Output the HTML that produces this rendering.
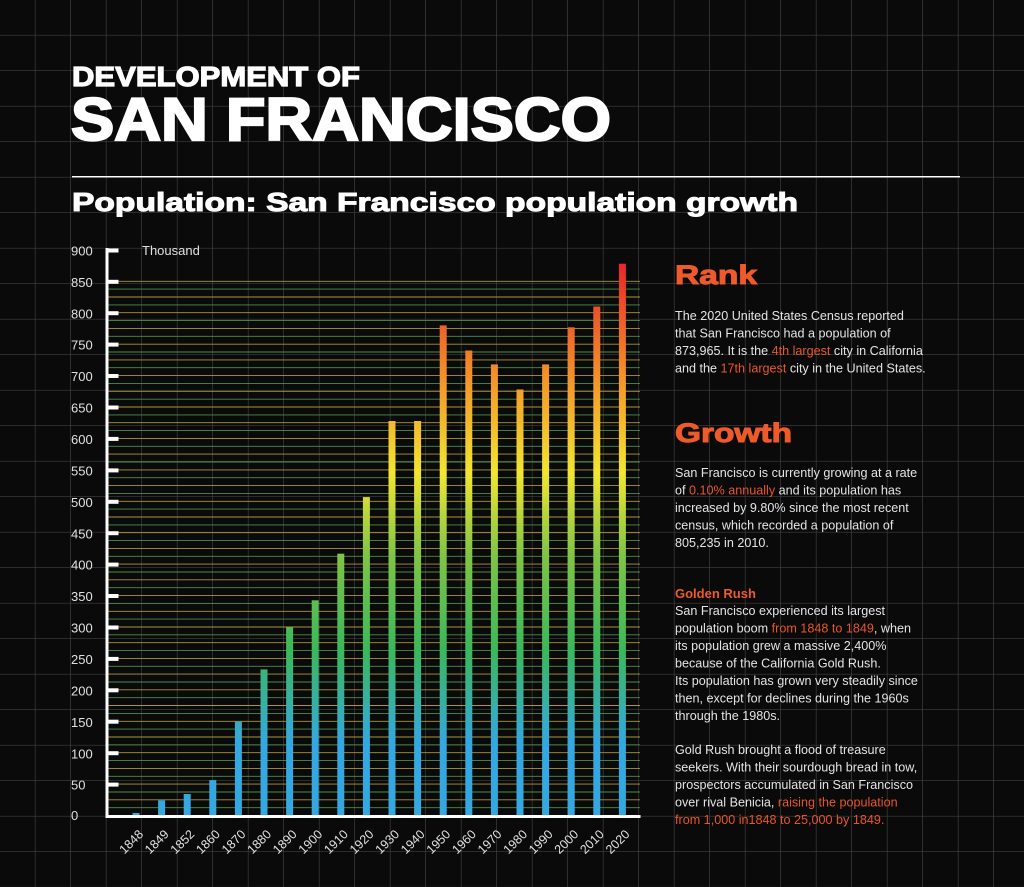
<!DOCTYPE html>
<html><head><meta charset="utf-8"><style>
body{margin:0;background:#0a0a0a;}
svg{display:block;}
text{font-family:"Liberation Sans",Arial,sans-serif;}
.b{fill:#e4e4e4;font-size:12.6px;}
.o{fill:#e8552a;}
</style></head><body>
<svg width="1024" height="887" viewBox="0 0 1024 887" xmlns="http://www.w3.org/2000/svg">
<defs>
<pattern id="g" width="35.5" height="35.5" patternUnits="userSpaceOnUse" x="0" y="0">
<path d="M35.5 0V35.5M0 35.5H35.5" stroke="#404040" stroke-width="1.3" fill="none"/>
</pattern>
<linearGradient id="bar" gradientUnits="userSpaceOnUse" x1="0" y1="816" x2="0" y2="263">
<stop offset="0" stop-color="#35a8e2"/>
<stop offset="0.13" stop-color="#35a8e2"/>
<stop offset="0.3" stop-color="#3bb85a"/>
<stop offset="0.47" stop-color="#7ec447"/>
<stop offset="0.62" stop-color="#f2e631"/>
<stop offset="0.78" stop-color="#f39a2a"/>
<stop offset="1" stop-color="#e8262a"/>
</linearGradient>
</defs>
<rect width="1024" height="887" fill="#0a0a0a"/>
<rect width="1024" height="887" fill="url(#g)"/>

<text x="72" y="86" fill="#fff" stroke="#fff" stroke-width="1.2" font-size="28" font-weight="bold" textLength="288" lengthAdjust="spacingAndGlyphs">DEVELOPMENT OF</text>
<text x="71" y="140" fill="#fff" stroke="#fff" stroke-width="2.2" font-size="60" font-weight="bold" textLength="540" lengthAdjust="spacingAndGlyphs">SAN FRANCISCO</text>
<rect x="72" y="176" width="888" height="1.5" fill="#fff"/>
<text x="72" y="211" fill="#fff" stroke="#fff" stroke-width="1" font-size="26" font-weight="bold" textLength="726" lengthAdjust="spacingAndGlyphs">Population: San Francisco population growth</text>

<g>
<path stroke="#a8983c" stroke-width="0.9" fill="none" d="M107 281.3H640M107 297H640M107 312.7H640M107 328.4H640M107 344.2H640M107 359.9H640M107 375.6H640M107 391.3H640M107 407H640M107 422.7H640M107 438.4H640M107 454.1H640M107 469.9H640M107 485.6H640M107 501.3H640M107 517H640M107 532.7H640M107 548.4H640M107 564.1H640M107 579.8H640M107 595.6H640M107 611.3H640M107 627H640M107 642.7H640M107 658.4H640M107 674.1H640M107 689.8H640M107 705.5H640M107 721.3H640M107 737H640M107 752.7H640M107 768.4H640M107 784.1H640M107 799.8H640"/>
<path stroke="#4a8f4b" stroke-width="0.9" fill="none" d="M107 289.1H640M107 304.9H640M107 320.6H640M107 336.3H640M107 352H640M107 367.7H640M107 383.4H640M107 399.2H640M107 414.9H640M107 430.6H640M107 446.3H640M107 462H640M107 477.7H640M107 493.4H640M107 509.1H640M107 524.9H640M107 540.6H640M107 556.3H640M107 572H640M107 587.7H640M107 603.4H640M107 619.1H640M107 634.8H640M107 650.6H640M107 666.3H640M107 682H640M107 697.7H640M107 713.4H640M107 729.1H640M107 744.8H640M107 760.6H640M107 776.3H640M107 792H640M107 807.7H640"/>
</g>

<g fill="url(#bar)">
<rect x="132.5" y="813" width="7" height="3"/>
<rect x="158.1" y="800.3" width="7" height="15.7"/>
<rect x="183.7" y="794" width="7" height="22"/>
<rect x="209.3" y="780.1" width="7" height="35.9"/>
<rect x="234.9" y="721.7" width="7" height="94.3"/>
<rect x="260.5" y="669.4" width="7" height="146.6"/>
<rect x="286.1" y="627.3" width="7" height="188.7"/>
<rect x="311.7" y="600.3" width="7" height="215.7"/>
<rect x="337.3" y="553.7" width="7" height="262.3"/>
<rect x="362.9" y="497.1" width="7" height="318.9"/>
<rect x="388.5" y="421" width="7" height="395"/>
<rect x="414.1" y="421" width="7" height="395"/>
<rect x="439.7" y="325.4" width="7" height="490.6"/>
<rect x="465.3" y="350.5" width="7" height="465.5"/>
<rect x="490.9" y="364.4" width="7" height="451.6"/>
<rect x="516.5" y="389.5" width="7" height="426.5"/>
<rect x="542.1" y="364.4" width="7" height="451.6"/>
<rect x="567.7" y="327.3" width="7" height="488.7"/>
<rect x="593.3" y="306.5" width="7" height="509.5"/>
<rect x="618.9" y="263.7" width="7" height="552.3"/>
</g>

<rect x="105.5" y="248" width="3" height="570" fill="#fff"/>
<rect x="105.5" y="815" width="535" height="3" fill="#fff"/>
<g fill="#fff">
<rect x="105.5" y="248.5" width="13" height="4"/><rect x="105.5" y="279.8" width="13" height="4"/><rect x="105.5" y="311.2" width="13" height="4"/><rect x="105.5" y="342.6" width="13" height="4"/><rect x="105.5" y="374" width="13" height="4"/><rect x="105.5" y="405.5" width="13" height="4"/><rect x="105.5" y="436.9" width="13" height="4"/><rect x="105.5" y="468.4" width="13" height="4"/><rect x="105.5" y="499.8" width="13" height="4"/><rect x="105.5" y="531.2" width="13" height="4"/><rect x="105.5" y="562.6" width="13" height="4"/><rect x="105.5" y="594" width="13" height="4"/><rect x="105.5" y="625.5" width="13" height="4"/><rect x="105.5" y="656.9" width="13" height="4"/><rect x="105.5" y="688.3" width="13" height="4"/><rect x="105.5" y="719.7" width="13" height="4"/><rect x="105.5" y="751.2" width="13" height="4"/><rect x="105.5" y="782.6" width="13" height="4"/>
</g>
<g fill="#e0e0e0" font-size="13">
<text x="71" y="255.5">900</text><text x="71" y="286.9">850</text><text x="71" y="318.3">800</text><text x="71" y="349.7">750</text><text x="71" y="381.1">700</text><text x="71" y="412.6">650</text><text x="71" y="444">600</text><text x="71" y="475.4">550</text><text x="71" y="506.9">500</text><text x="71" y="538.3">450</text><text x="71" y="569.7">400</text><text x="71" y="601.1">350</text><text x="71" y="632.6">300</text><text x="71" y="664">250</text><text x="71" y="695.4">200</text><text x="71" y="726.8">150</text><text x="71" y="758.3">100</text><text x="71" y="789.7">50</text><text x="71" y="820">0</text>
<text x="142" y="255">Thousand</text>
</g>
<g fill="#e0e0e0" font-size="12.5">
<text transform="translate(144,835) rotate(-45)" text-anchor="end">1848</text>
<text transform="translate(169.6,835) rotate(-45)" text-anchor="end">1849</text>
<text transform="translate(195.2,835) rotate(-45)" text-anchor="end">1852</text>
<text transform="translate(220.8,835) rotate(-45)" text-anchor="end">1860</text>
<text transform="translate(246.4,835) rotate(-45)" text-anchor="end">1870</text>
<text transform="translate(272,835) rotate(-45)" text-anchor="end">1880</text>
<text transform="translate(297.6,835) rotate(-45)" text-anchor="end">1890</text>
<text transform="translate(323.2,835) rotate(-45)" text-anchor="end">1900</text>
<text transform="translate(348.8,835) rotate(-45)" text-anchor="end">1910</text>
<text transform="translate(374.4,835) rotate(-45)" text-anchor="end">1920</text>
<text transform="translate(400,835) rotate(-45)" text-anchor="end">1930</text>
<text transform="translate(425.6,835) rotate(-45)" text-anchor="end">1940</text>
<text transform="translate(451.2,835) rotate(-45)" text-anchor="end">1950</text>
<text transform="translate(476.8,835) rotate(-45)" text-anchor="end">1960</text>
<text transform="translate(502.4,835) rotate(-45)" text-anchor="end">1970</text>
<text transform="translate(528,835) rotate(-45)" text-anchor="end">1980</text>
<text transform="translate(553.6,835) rotate(-45)" text-anchor="end">1990</text>
<text transform="translate(579.2,835) rotate(-45)" text-anchor="end">2000</text>
<text transform="translate(604.8,835) rotate(-45)" text-anchor="end">2010</text>
<text transform="translate(630.4,835) rotate(-45)" text-anchor="end">2020</text>
</g>

<text x="675" y="284" fill="#ee5a2a" stroke="#ee5a2a" stroke-width="1" font-size="27" font-weight="bold" textLength="82" lengthAdjust="spacingAndGlyphs">Rank</text>
<g class="b">
<text x="675" y="320">The 2020 United States Census reported</text>
<text x="675" y="337.5">that San Francisco had a population of</text>
<text x="675" y="355">873,965. It is the <tspan class="o">4th largest</tspan> city in California</text>
<text x="675" y="372.5">and the <tspan class="o">17th largest</tspan> city in the United States.</text>
</g>
<text x="675" y="442" fill="#ee5a2a" stroke="#ee5a2a" stroke-width="1" font-size="27" font-weight="bold" textLength="117" lengthAdjust="spacingAndGlyphs">Growth</text>
<g class="b">
<text x="675" y="477">San Francisco is currently growing at a rate</text>
<text x="675" y="494.5">of <tspan class="o">0.10% annually</tspan> and its population has</text>
<text x="675" y="512">increased by 9.80% since the most recent</text>
<text x="675" y="529.5">census, which recorded a population of</text>
<text x="675" y="547">805,235 in 2010.</text>
</g>
<text x="675" y="598" fill="#ee5a2a" font-size="13" font-weight="bold">Golden Rush</text>
<g class="b">
<text x="675" y="615">San Francisco experienced its largest</text>
<text x="675" y="632.5">population boom <tspan class="o">from 1848 to 1849</tspan>, when</text>
<text x="675" y="650">its population grew a massive 2,400%</text>
<text x="675" y="667.5">because of the California Gold Rush.</text>
<text x="675" y="685">Its population has grown very steadily since</text>
<text x="675" y="702.5">then, except for declines during the 1960s</text>
<text x="675" y="720">through the 1980s.</text>
<text x="675" y="754">Gold Rush brought a flood of treasure</text>
<text x="675" y="771.5">seekers. With their sourdough bread in tow,</text>
<text x="675" y="789">prospectors accumulated in San Francisco</text>
<text x="675" y="806.5">over rival Benicia, <tspan class="o">raising the population</tspan></text>
<text x="675" y="824" class="o">from 1,000 in1848 to 25,000 by 1849.</text>
</g>
</svg>
</body></html>
